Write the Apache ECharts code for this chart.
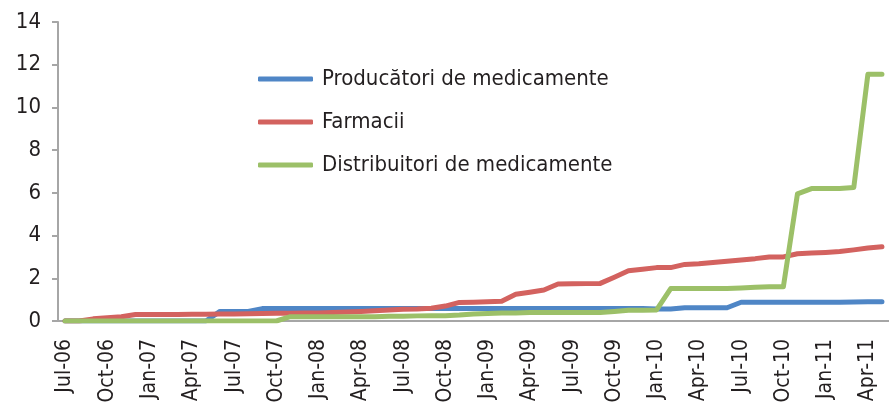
<!DOCTYPE html>
<html>
<head>
<meta charset="utf-8">
<script src="https://cdn.jsdelivr.net/npm/echarts@6/dist/echarts.min.js"></script>
<style>
  html, body { margin: 0; padding: 0; background: #fff; }
  #chart { width: 889px; height: 409px; }
</style>
</head>
<body>
<div id="chart"></div>
<script>
// monthly categories, Jul-06 .. May-11
const months = [
  'Jul-06', 'Aug-06', 'Sep-06', 'Oct-06', 'Nov-06', 'Dec-06',
  'Jan-07', 'Feb-07', 'Mar-07', 'Apr-07', 'May-07', 'Jun-07',
  'Jul-07', 'Aug-07', 'Sep-07', 'Oct-07', 'Nov-07', 'Dec-07',
  'Jan-08', 'Feb-08', 'Mar-08', 'Apr-08', 'May-08', 'Jun-08',
  'Jul-08', 'Aug-08', 'Sep-08', 'Oct-08', 'Nov-08', 'Dec-08',
  'Jan-09', 'Feb-09', 'Mar-09', 'Apr-09', 'May-09', 'Jun-09',
  'Jul-09', 'Aug-09', 'Sep-09', 'Oct-09', 'Nov-09', 'Dec-09',
  'Jan-10', 'Feb-10', 'Mar-10', 'Apr-10', 'May-10', 'Jun-10',
  'Jul-10', 'Aug-10', 'Sep-10', 'Oct-10', 'Nov-10', 'Dec-10',
  'Jan-11', 'Feb-11', 'Mar-11', 'Apr-11', 'May-11'
];

const producatori = [
  0, 0, 0, 0, 0, 0, 0, 0, 0, 0, 0, 0.45,
  0.45, 0.45, 0.58, 0.58, 0.58, 0.58, 0.58, 0.58, 0.58, 0.58, 0.58, 0.58,
  0.58, 0.58, 0.58, 0.58, 0.58, 0.58, 0.58, 0.58, 0.58, 0.58, 0.58, 0.58,
  0.58, 0.58, 0.58, 0.58, 0.58, 0.58, 0.56, 0.56, 0.62, 0.62, 0.62, 0.62,
  0.88, 0.88, 0.88, 0.88, 0.88, 0.88, 0.88, 0.88, 0.89, 0.9, 0.9
];

const farmacii = [
  0, 0, 0.1, 0.15, 0.2, 0.3, 0.3, 0.3, 0.3, 0.32, 0.32, 0.33,
  0.33, 0.34, 0.35, 0.36, 0.36, 0.37, 0.38, 0.4, 0.42, 0.45, 0.48, 0.52,
  0.55, 0.56, 0.6, 0.7, 0.87, 0.88, 0.9, 0.93, 1.25, 1.35, 1.45, 1.73,
  1.74, 1.75, 1.76, 2.05, 2.35, 2.42, 2.5, 2.5, 2.65, 2.68, 2.74, 2.8,
  2.86, 2.92, 3.0, 3.0, 3.15, 3.18, 3.21, 3.25, 3.33, 3.42, 3.48
];

const distribuitori = [
  0, 0, 0, 0, 0, 0, 0, 0, 0, 0, 0, 0,
  0, 0, 0, 0, 0.2, 0.2, 0.2, 0.2, 0.2, 0.2, 0.2, 0.22,
  0.22, 0.24, 0.25, 0.25, 0.28, 0.33, 0.35, 0.37, 0.38, 0.4, 0.4, 0.4,
  0.4, 0.4, 0.4, 0.45, 0.5, 0.5, 0.52, 1.52, 1.52, 1.52, 1.52, 1.52,
  1.55, 1.58, 1.6, 1.6, 5.95, 6.2, 6.2, 6.2, 6.25, 11.55, 11.55
];

const seriesNames = ['Producători de medicamente', 'Farmacii', 'Distribuitori de medicamente'];
const seriesColors = ['#4f86c6', '#d3625f', '#9cc068'];

const font = "'Liberation Sans Narrow', 'DejaVu Sans Condensed', 'Liberation Sans', sans-serif";
const axisGrey = '#a6a6a6';

const chart = echarts.init(document.getElementById('chart'));

const option = {
  animation: false,
  textStyle: { fontFamily: font },
  grid: { left: 58, right: -6, top: 22, bottom: 88, containLabel: false },
  legend: {
    orient: 'vertical',
    left: 258,
    top: 68,
    padding: 0,
    itemWidth: 55,
    itemHeight: 5,
    itemGap: 21,
    icon: 'roundRect',
    data: seriesNames,
    textStyle: { fontFamily: font, fontSize: 22, color: '#231f20', padding: [0, 0, 0, 4] }
  },
  xAxis: {
    type: 'category',
    data: months,
    boundaryGap: true,
    axisLine: { lineStyle: { color: axisGrey, width: 2 } },
    axisTick: { interval: 2, length: 7, lineStyle: { color: axisGrey, width: 2 } },
    axisLabel: {
      interval: 2,
      rotate: 90,
      margin: 18,
      fontFamily: font,
      fontSize: 21,
      color: '#231f20'
    },
    splitLine: { show: false }
  },
  yAxis: {
    type: 'value',
    min: 0,
    max: 14,
    interval: 2,
    axisLine: { show: true, lineStyle: { color: axisGrey, width: 2 } },
    axisTick: { show: true, length: 6, lineStyle: { color: axisGrey, width: 2 } },
    axisLabel: { margin: 17, fontFamily: font, fontSize: 22, color: '#231f20' },
    splitLine: { show: false }
  },
  series: [producatori, farmacii, distribuitori].map((d, i) => ({
    name: seriesNames[i],
    type: 'line',
    data: d,
    showSymbol: false,
    symbol: 'none',
    color: seriesColors[i],
    lineStyle: { width: 5, color: seriesColors[i], cap: 'round', join: 'round' }
  }))
};

chart.setOption(option);
</script>
</body>
</html>
